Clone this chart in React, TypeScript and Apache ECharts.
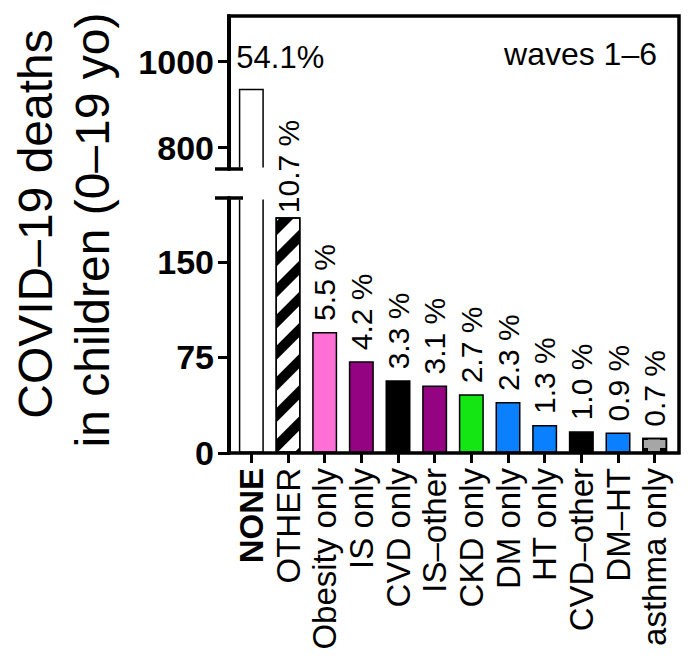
import React, { useEffect, useRef } from "react";
import * as echarts from "echarts";

const categories = [
  "NONE",
  "OTHER",
  "Obesity only",
  "IS only",
  "CVD only",
  "IS–other",
  "CKD only",
  "DM only",
  "HT only",
  "CVD–other",
  "DM–HT",
  "asthma only",
];
const deaths = [937, 185, 95, 72, 57, 53, 46, 40, 22, 17, 16, 12];
const pctLabels = [
  "54.1%",
  "10.7 %",
  "5.5 %",
  "4.2 %",
  "3.3 %",
  "3.1 %",
  "2.7 %",
  "2.3 %",
  "1.3 %",
  "1.0 %",
  "0.9 %",
  "0.7 %",
];
const barColors = [
  "#ffffff",
  "#ffffff",
  "#ff6fd6",
  "#930382",
  "#000000",
  "#930382",
  "#14e614",
  "#0b80ff",
  "#0b80ff",
  "#000000",
  "#0b80ff",
  "#a6a6a6",
];
const upperTicks = [800, 1000];
const lowerTicks = [0, 75, 150];
const upperRange = [750, 1106];
const lowerRange = [0, 200];

const FONT = "'Liberation Sans', Arial, Helvetica, sans-serif";

export default function App() {
  const ref = useRef<HTMLDivElement>(null);

  useEffect(() => {
    if (!ref.current) return;
    const chart = echarts.init(ref.current, null, { renderer: "svg" });

    const decalFor = (i: number) => {
      if (categories[i] === "OTHER") {
        return {
          symbol: "rect",
          symbolSize: 1,
          dashArrayX: [1, 0],
          dashArrayY: [10, 12],
          rotation: -Math.PI / 4,
          color: "#000",
        };
      }
      if (categories[i] === "asthma only") {
        return {
          symbol: "rect",
          symbolSize: 1,
          dashArrayX: [[8, 12]],
          dashArrayY: [8, 8],
          color: "#000",
        };
      }
      return undefined;
    };

    const lowerData = deaths.map((v, i) => ({
      value: v,
      itemStyle: {
        color: barColors[i],
        borderColor: "#000",
        borderWidth: 1.5,
        decal: decalFor(i),
      },
      label: { show: i > 0, distance: categories[i] === "OTHER" ? 4 : 11 },
    }));
    const upperData = deaths.map((v, i) =>
      i === 0
        ? {
            value: v,
            itemStyle: { color: barColors[i], borderColor: "#000", borderWidth: 1.5 },
          }
        : "-"
    );

    const axisLineStyle = { color: "#000", width: 4 };

    const option: any = {
      animation: false,
      backgroundColor: "#fff",
      grid: [
        { left: 233, width: 440, top: 198, height: 255 },
        { left: 233, width: 440, top: 16, height: 153 },
      ],
      xAxis: [
        {
          type: "category",
          gridIndex: 0,
          data: categories,
          axisLine: { show: false },
          axisTick: {
            show: true,
            alignWithLabel: true,
            length: 10,
            lineStyle: { color: "#000", width: 3 },
          },
          axisLabel: {
            rotate: 90,
            interval: 0,
            margin: 15,
            color: "#000",
            fontSize: 33,
            fontFamily: FONT,
            formatter: (v: string) => (v === "NONE" ? "{b|" + v + "}" : v),
            rich: {
              b: { fontWeight: "bold", fontSize: 33, fontFamily: FONT, color: "#000" },
            },
          },
        },
        {
          type: "category",
          gridIndex: 1,
          data: categories,
          show: false,
        },
      ],
      yAxis: [
        {
          type: "value",
          gridIndex: 0,
          min: lowerRange[0],
          max: lowerRange[1],
          offset: 4,
          splitLine: { show: false },
          axisLine: { show: true, lineStyle: axisLineStyle },
          axisTick: {
            show: true,
            length: 11,
            customValues: lowerTicks,
            lineStyle: { color: "#000", width: 3 },
          },
          axisLabel: {
            customValues: lowerTicks,
            margin: 15,
            color: "#000",
            fontSize: 34,
            fontWeight: "bold",
            fontFamily: FONT,
            formatter: (v: number) => String(v),
          },
        },
        {
          type: "value",
          gridIndex: 1,
          min: upperRange[0],
          max: upperRange[1],
          offset: 4,
          splitLine: { show: false },
          axisLine: { show: true, lineStyle: axisLineStyle },
          axisTick: {
            show: true,
            length: 11,
            customValues: upperTicks,
            lineStyle: { color: "#000", width: 3 },
          },
          axisLabel: {
            customValues: upperTicks,
            margin: 15,
            color: "#000",
            fontSize: 34,
            fontWeight: "bold",
            fontFamily: FONT,
            formatter: (v: number) => String(v),
          },
        },
      ],
      series: [
        {
          type: "bar",
          xAxisIndex: 0,
          yAxisIndex: 0,
          barWidth: 25,
          data: lowerData,
          label: {
            position: "top",
            rotate: 90,
            align: "left",
            verticalAlign: "middle",
            distance: 11,
            color: "#000",
            fontSize: 30,
            fontFamily: FONT,
            formatter: (p: any) => pctLabels[p.dataIndex],
          },
        },
        {
          type: "bar",
          xAxisIndex: 1,
          yAxisIndex: 1,
          barWidth: 25,
          data: upperData,
          label: {
            show: true,
            position: "top",
            align: "left",
            distance: 16,
            offset: [-15, 0],
            color: "#000",
            fontSize: 31,
            fontFamily: FONT,
            formatter: (p: any) => pctLabels[p.dataIndex],
          },
        },
      ],
      graphic: [
        {
          type: "rect",
          z: 50,
          shape: { x: 231, y: 167.5, width: 38, height: 32 },
          style: { fill: "#fff" },
        },
        {
          type: "line",
          z: 60,
          shape: { x1: 215, y1: 169, x2: 243, y2: 169 },
          style: { stroke: "#000", lineWidth: 3.5 },
        },
        {
          type: "line",
          z: 60,
          shape: { x1: 215, y1: 198, x2: 243, y2: 198 },
          style: { stroke: "#000", lineWidth: 3.5 },
        },
        {
          type: "polyline",
          z: 60,
          shape: {
            points: [
              [227, 16],
              [679, 16],
              [679, 453],
              [227, 453],
            ],
          },
          style: { stroke: "#000", lineWidth: 3.5, fill: null },
        },
        {
          type: "text",
          z: 60,
          x: 657,
          y: 70,
          style: {
            text: "waves 1–6",
            fontSize: 32,
            fontFamily: FONT,
            fill: "#000",
            align: "right",
            verticalAlign: "bottom",
          },
        },
        {
          type: "text",
          z: 60,
          x: 35,
          y: 224,
          rotation: Math.PI / 2,
          style: {
            text: "COVID–19 deaths",
            fontSize: 48,
            fontFamily: FONT,
            fill: "#000",
            align: "center",
            verticalAlign: "middle",
          },
        },
        {
          type: "text",
          z: 60,
          x: 92,
          y: 230,
          rotation: Math.PI / 2,
          style: {
            text: "in children (0–19 yo)",
            fontSize: 48,
            fontFamily: FONT,
            fill: "#000",
            align: "center",
            verticalAlign: "middle",
          },
        },
      ],
    };

    chart.setOption(option);
    return () => chart.dispose();
  }, []);

  return <div ref={ref} style={{ width: 695, height: 667, margin: -8 }} />;
}
